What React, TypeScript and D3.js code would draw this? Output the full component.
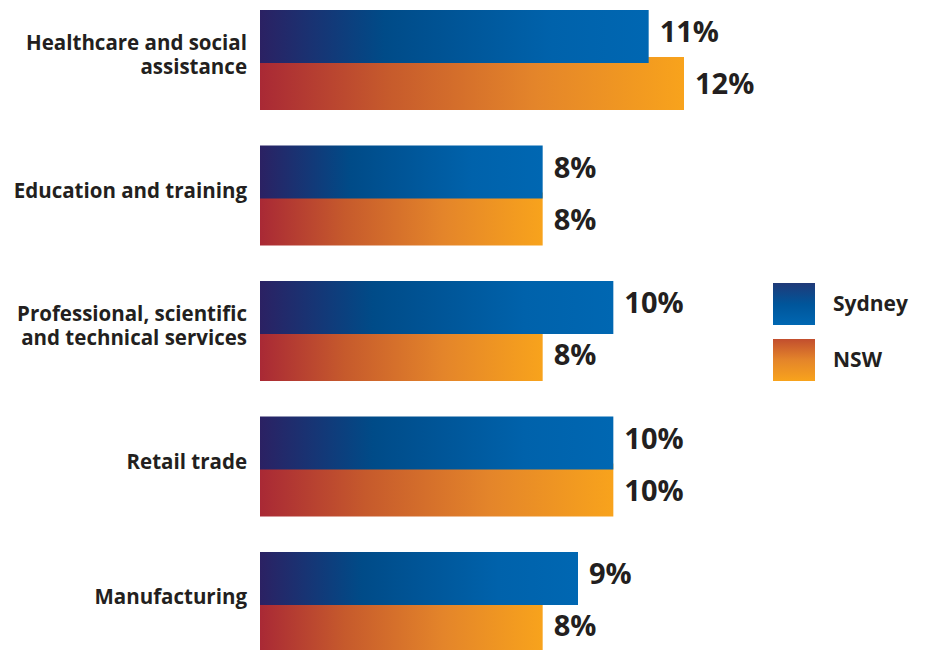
import React from 'react';
import * as d3 from 'd3';

const categories = [
  'Healthcare and social assistance',
  'Education and training',
  'Professional, scientific and technical services',
  'Retail trade',
  'Manufacturing',
];
const categoryLines = [
  ['Healthcare and social', 'assistance'],
  ['Education and training'],
  ['Professional, scientific', 'and technical services'],
  ['Retail trade'],
  ['Manufacturing'],
];
const sydney = [11, 8, 10, 10, 9];
const nsw = [12, 8, 8, 10, 8];
const seriesNames = ['Sydney', 'NSW'];

const W = 925;
const H = 650;
const FONT = '"Open Sans", "Noto Sans", sans-serif';
const INK = '#231f20';

const App: React.FC = () => {
  const x = d3.scaleLinear().domain([0, 12]).range([260, 684]);
  const y = d3
    .scaleBand<string>()
    .domain(categories)
    .range([10, 652])
    .paddingInner(0.262)
    .paddingOuter(0);

  const bw = y.bandwidth();
  const barH = bw * 0.53;
  const nswOffset = bw * 0.47;

  return (
    <svg
      width={W}
      height={H}
      style={{ position: 'absolute', left: 0, top: 0, background: '#fff' }}
      fontFamily={FONT}
    >
      <defs>
        <linearGradient id="gSyd" x1="0" x2="1" y1="0" y2="0">
          <stop offset="0" stopColor="#2b2163" />
          <stop offset="0.32" stopColor="#004b88" />
          <stop offset="0.75" stopColor="#0062ab" />
          <stop offset="1" stopColor="#0067b2" />
        </linearGradient>
        <linearGradient id="gNsw" x1="0" x2="1" y1="0" y2="0">
          <stop offset="0" stopColor="#a92935" />
          <stop offset="0.3" stopColor="#c65a2c" />
          <stop offset="0.65" stopColor="#e4852a" />
          <stop offset="1" stopColor="#f8a31c" />
        </linearGradient>
        <linearGradient id="gSydV" x1="0" x2="0" y1="0" y2="1">
          <stop offset="0" stopColor="#203a78" />
          <stop offset="0.5" stopColor="#00559a" />
          <stop offset="1" stopColor="#0067b2" />
        </linearGradient>
        <linearGradient id="gNswV" x1="0" x2="0" y1="0" y2="1">
          <stop offset="0" stopColor="#c24e2e" />
          <stop offset="0.5" stopColor="#e4852a" />
          <stop offset="1" stopColor="#f8a31c" />
        </linearGradient>
      </defs>

      {categories.map((c, i) => {
        const y0 = y(c)!;
        const lines = categoryLines[i];
        const cy = y0 + bw / 2 - 5;
        const lineH = 24;
        const startY = cy - ((lines.length - 1) * lineH) / 2;
        return (
          <g key={c}>
            <rect
              x={x(0)}
              y={y0 + nswOffset}
              width={x(nsw[i]) - x(0)}
              height={barH}
              fill="url(#gNsw)"
            />
            <rect
              x={x(0)}
              y={y0}
              width={x(sydney[i]) - x(0)}
              height={barH}
              fill="url(#gSyd)"
            />
            <text
              x={x(sydney[i]) + 11}
              y={y0 + 22}
              dy="0.35em"
              fontSize={29}
              fontWeight={700}
              fill={INK}
            >
              {sydney[i]}%
            </text>
            <text
              x={x(nsw[i]) + 11}
              y={y0 + bw * 0.74}
              dy="0.35em"
              fontSize={29}
              fontWeight={700}
              fill={INK}
            >
              {nsw[i]}%
            </text>
            {lines.map((l, k) => (
              <text
                key={l}
                x={247}
                y={startY + k * lineH}
                dy="0.35em"
                textAnchor="end"
                fontSize={20.5}
                fontWeight={700}
                fill={INK}
              >
                {l}
              </text>
            ))}
          </g>
        );
      })}

      {seriesNames.map((s, i) => (
        <g key={s} transform={`translate(773, ${283 + i * 56})`}>
          <rect width={42} height={42} fill={i === 0 ? 'url(#gSydV)' : 'url(#gNswV)'} />
          <text x={60} y={21} dy="0.35em" fontSize={21} fontWeight={700} fill={INK}>
            {s}
          </text>
        </g>
      ))}
    </svg>
  );
};

export default App;
